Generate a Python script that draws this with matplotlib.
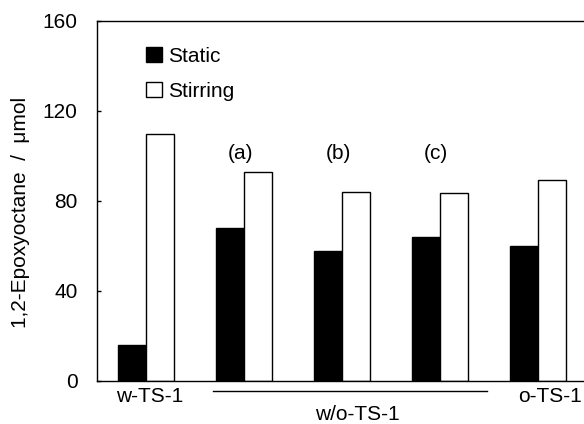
import numpy as np
import matplotlib.pyplot as plt
from matplotlib.patches import Patch

plt.rcParams['font.family'] = ['Liberation Sans', 'DejaVu Sans']

groups = ['w-TS-1', '(a)', '(b)', '(c)', 'o-TS-1']
static = [16, 68, 58, 64, 60]
stirring = [110, 93, 84, 83.5, 89.5]
yticks = [0, 40, 80, 120, 160]

fig = plt.figure(figsize=(5.84, 4.24), dpi=100)
ax = fig.add_axes([97/584, 43/424, 487/584, 360/424])

x = np.arange(len(groups))
w = 0.285
ax.bar(x - w/2, static, w, color='black', edgecolor='black', linewidth=1)
ax.bar(x + w/2, stirring, w, color='white', edgecolor='black', linewidth=1)

ax.set_xlim(-0.5, 4.47)
ax.set_ylim(0, 160)
ax.set_yticks(yticks)
ax.set_xticks([])
ax.tick_params(axis='y', direction='in', length=3, width=1, labelsize=15, pad=14)
ax.spines['right'].set_visible(False)
for s in ['left', 'bottom', 'top']:
    ax.spines[s].set_linewidth(1)
ax.set_ylabel('1,2-Epoxyoctane  /  \u03bcmol', fontsize=15)
ax.yaxis.set_label_coords(-0.138, 0.469)

# sample labels above the w/o-TS-1 groups
for i in [1, 2, 3]:
    ax.text(x[i] - 0.04, 101, groups[i], ha='center', va='center', fontsize=15)

# category labels under the axis
tr = ax.get_xaxis_transform()
ax.text(0.04, -0.042, 'w-TS-1', transform=tr, ha='center', va='center', fontsize=15)
ax.text(4.12, -0.042, 'o-TS-1', transform=tr, ha='center', va='center', fontsize=15)
ax.text(2.16, -0.094, 'w/o-TS-1', transform=tr, ha='center', va='center', fontsize=15)
ax.plot([0.68, 3.48], [-0.028, -0.028], transform=tr, color='black', lw=1, clip_on=False)

handles = [Patch(facecolor='black', edgecolor='black', label='Static'),
           Patch(facecolor='white', edgecolor='black', label='Stirring')]
ax.legend(handles=handles, loc='upper left', bbox_to_anchor=(146/584, 1 - 47/424),
          bbox_transform=fig.transFigure, frameon=False, fontsize=15,
          handlelength=0.75, handleheight=0.75, handletextpad=0.3,
          labelspacing=0.75, borderpad=0, borderaxespad=0)

fig.savefig('out.png', dpi=100)
